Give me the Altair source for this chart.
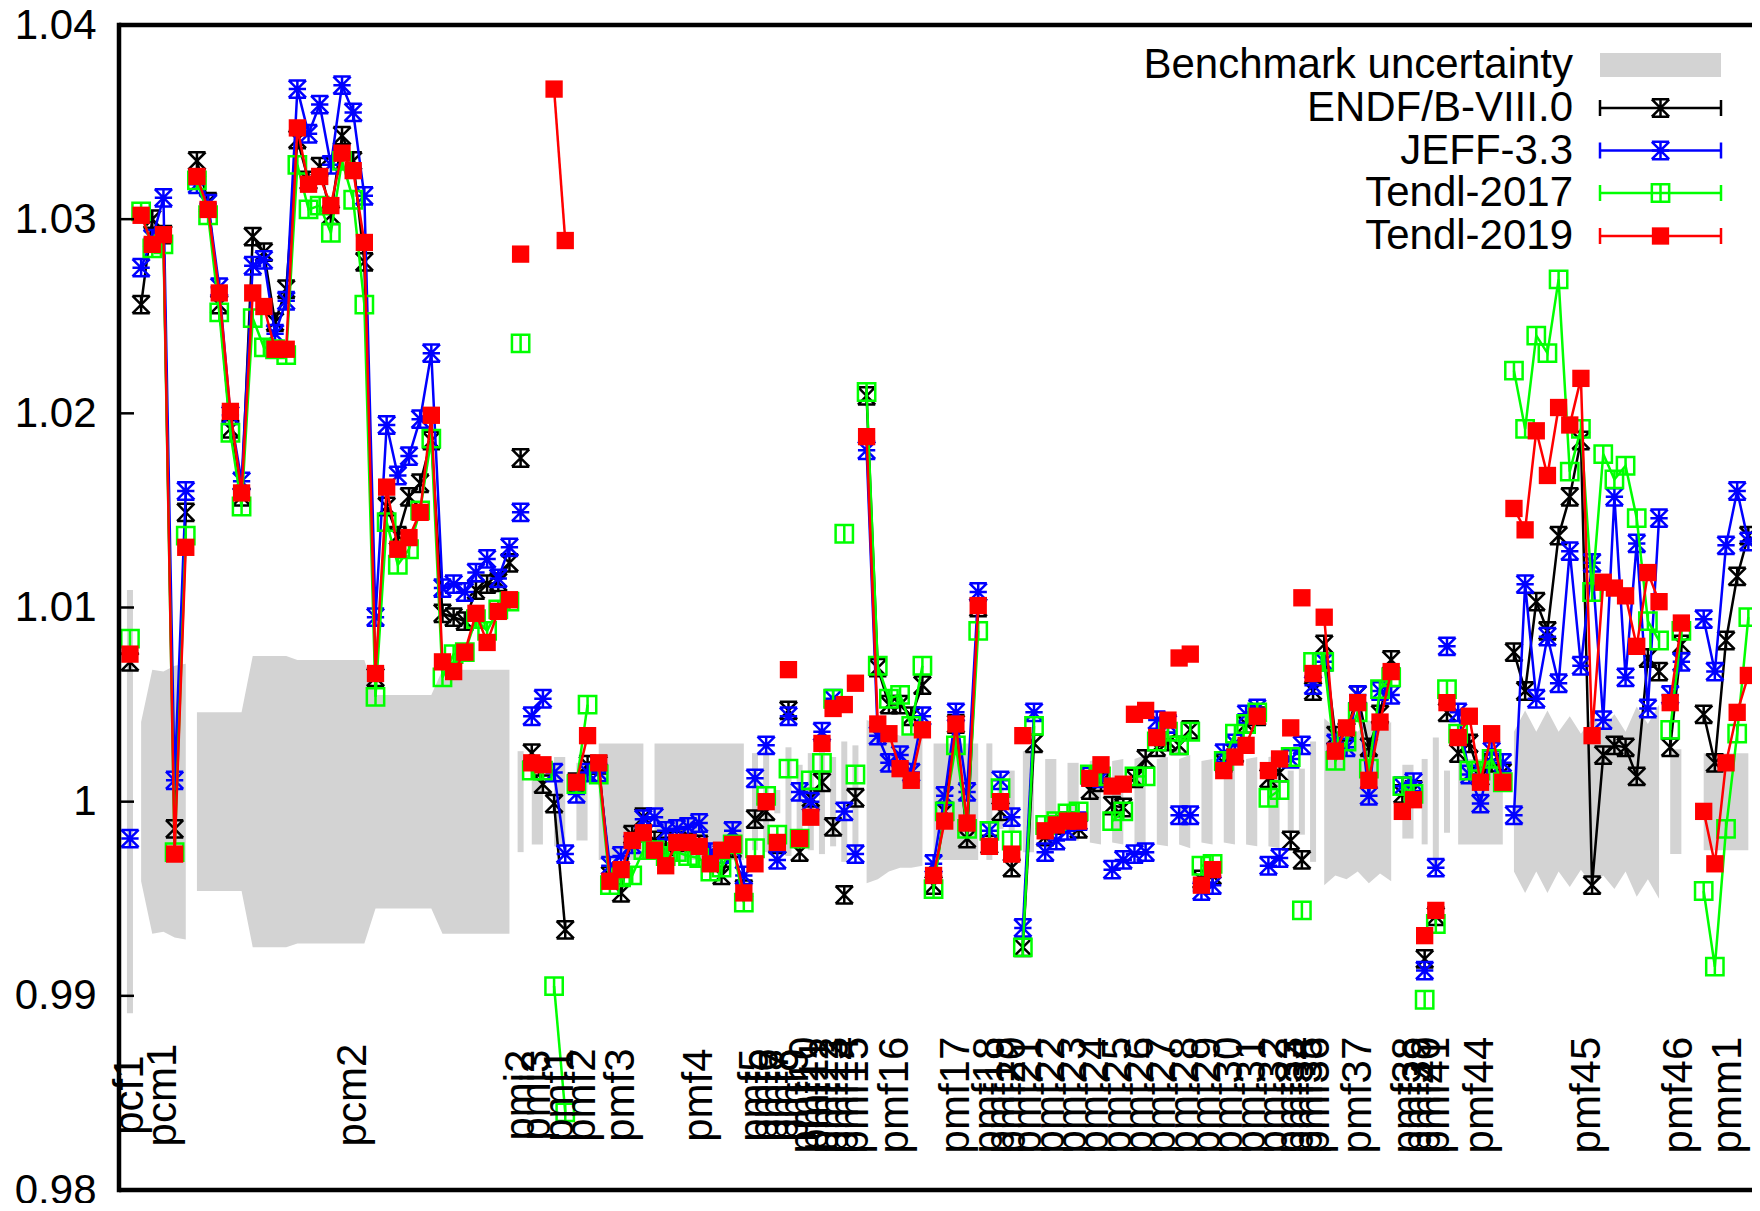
import altair as alt
import pandas as pd
import numpy as np

N = None
# benchmark index 0..145 ; C/E values
endf = [1.0072, 1.0256, 1.0300, 1.0292, 0.9986, 1.0149, 1.0330, 1.0309, 1.0256, 1.0192,
        1.0157, 1.0291, 1.0283, 1.0247, 1.0264, 1.0341, 1.0320, 1.0327, 1.0302, 1.0343,
        1.0330, 1.0278, 1.0064, 1.0152, 1.0137, 1.0157, 1.0164, 1.0186, 1.0097, 1.0095,
        1.0093, 1.0109, 1.0112, 1.0113, 1.0123, 1.0177, 1.0025, 1.0009, 0.9999, 0.9934,
        1.0010, 1.0019, 1.0019, 0.9962, 0.9953, 0.9983, 0.9992, 0.9980, 0.9977, 0.9980,
        0.9979, 0.9978, 0.9970, 0.9962, 0.9976, 0.9955, 0.9991, 0.9995, 0.9978, 1.0047,
        0.9974, 1.0002, 1.0010, 0.9987, 0.9952, 1.0002, 1.0209, 1.0069, 1.0050, 1.0050,
        1.0044, 1.0060, 0.9957, 0.9995, 1.0040, 0.9981, 1.0100, 0.9978, 0.9995, 0.9966,
        0.9925, 1.0030, 0.9982, 0.9988, 0.9990, 0.9986, 1.0006, 1.0010, 0.9998, 0.9997,
        1.0012, 1.0022, 1.0028, 1.0031, 1.0029, 1.0037, 0.9960, 0.9962, 1.0020, 1.0025,
        1.0040, 1.0044, 1.0012, 1.0015, 0.9980, 0.9970, 1.0057, 1.0081, 1.0034, 1.0036,
        1.0055, 1.0028, 1.0045, 1.0073, 1.0004, 1.0006, 0.9919, 0.9941, 1.0046, 1.0025,
        1.0030, 1.0013, 1.0020, 1.0015, 1.0077, 1.0057, 1.0103, 1.0088, 1.0137, 1.0157,
        1.0186, 0.9957, 1.0024, 1.0029, 1.0028, 1.0013, 1.0074, 1.0067, 1.0028, 1.0081,
        N, 1.0045, 1.0020, 1.0083, 1.0116, 1.0137]
jeff = [0.9981, 1.0275, 1.0290, 1.0311, 1.0011, 1.0160, 1.0318, 1.0308, 1.0265, 1.0199,
        1.0165, 1.0276, 1.0279, 1.0241, 1.0258, 1.0367, 1.0344, 1.0359, 1.0328, 1.0369,
        1.0355, 1.0312, 1.0095, 1.0194, 1.0168, 1.0178, 1.0197, 1.0231, 1.0110, 1.0112,
        1.0108, 1.0118, 1.0125, 1.0115, 1.0131, 1.0149, 1.0044, 1.0053, 1.0015, 0.9973,
        1.0004, 1.0015, 1.0015, 0.9967, 0.9972, 0.9978, 0.9991, 0.9992, 0.9985, 0.9986,
        0.9987, 0.9989, 0.9974, 0.9973, 0.9985, 0.9962, 1.0012, 1.0029, 0.9970, 1.0044,
        1.0005, 1.0000, 1.0036, 1.0053, 0.9995, 0.9973, 1.0181, 1.0034, 1.0020, 1.0024,
        1.0015, 1.0044, 0.9968, 1.0003, 1.0046, 1.0005, 1.0108, 0.9985, 1.0011, 0.9992,
        0.9935, 1.0046, 0.9974, 0.9980, 0.9985, 0.9990, 1.0013, 1.0012, 0.9965, 0.9970,
        0.9973, 0.9974, 1.0042, 1.0040, 0.9993, 0.9993, 0.9954, 0.9957, 1.0025, 1.0030,
        1.0045, 1.0048, 0.9967, 0.9971, 1.0022, 1.0029, 1.0060, 1.0072, 1.0030, 1.0028,
        1.0055, 1.0003, 1.0057, 1.0055, 1.0008, 1.0010, 0.9913, 0.9966, 1.0080, 1.0046,
        1.0014, 0.9999, 1.0026, 1.0020, 0.9993, 1.0112, 1.0053, 1.0085, 1.0061, 1.0129,
        1.0070, 1.0123, 1.0042, 1.0157, 1.0064, 1.0133, 1.0048, 1.0146, 1.0055, 1.0072,
        N, 1.0094, 1.0067, 1.0132, 1.0160, 1.0134]
tendl17 = [1.0084, 1.0304, 1.0285, 1.0287, 0.9974, 1.0137, 1.0320, 1.0302, 1.0252, 1.0190,
           1.0152, 1.0249, 1.0234, 1.0233, 1.0230, 1.0328, 1.0305, 1.0307, 1.0293, 1.0330,
           1.0310, 1.0256, 1.0054, 1.0144, 1.0122, 1.0130, 1.0150, 1.0187, 1.0064, 1.0076,
           1.0077, 1.0094, 1.0088, 1.0099, 1.0103, 1.0236, 1.0016, 1.0016, 0.9905, 0.9840,
           1.0009, 1.0050, 1.0014, 0.9957, 0.9961, 0.9962, 0.9975, 0.9975, 0.9972, 0.9974,
           0.9972, 0.9971, 0.9964, 0.9966, 0.9978, 0.9948, 0.9976, 1.0003, 0.9983, 1.0017,
           0.9981, 1.0011, 1.0020, 1.0053, 1.0138, 1.0014, 1.0211, 1.0070, 1.0053, 1.0055,
           1.0039, 1.0070, 0.9955, 0.9995, 1.0029, 0.9986, 1.0088, 0.9985, 1.0007, 0.9980,
           0.9925, 1.0039, 0.9988, 0.9990, 0.9994, 0.9995, 1.0014, 1.0013, 0.9990, 0.9995,
           1.0013, 1.0013, 1.0031, 1.0036, 1.0029, 1.0036, 0.9967, 0.9968, 1.0021, 1.0035,
           1.0040, 1.0046, 1.0002, 1.0006, 1.0023, 0.9944, 1.0072, 1.0072, 1.0021, 1.0031,
           1.0046, 1.0017, 1.0058, 1.0064, 1.0008, 1.0004, 0.9898, 0.9937, 1.0058, 1.0035,
           1.0016, 1.0016, 1.0022, 1.0010, 1.0222, 1.0192, 1.0240, 1.0231, 1.0269, 1.0170,
           1.0192, 1.0108, 1.0179, 1.0166, 1.0173, 1.0146, 1.0093, 1.0083, 1.0037, 1.0088,
           N, 0.9954, 0.9915, 0.9986, 1.0035, 1.0095]
tendl19 = [1.0076, 1.0302, 1.0287, 1.0292, 0.9973, 1.0131, 1.0322, 1.0305, 1.0262, 1.0201,
           1.0159, 1.0262, 1.0255, 1.0233, 1.0233, 1.0347, 1.0318, 1.0322, 1.0307, 1.0334,
           1.0325, 1.0288, 1.0066, 1.0162, 1.0130, 1.0136, 1.0149, 1.0199, 1.0072, 1.0067,
           1.0077, 1.0097, 1.0082, 1.0098, 1.0104, 1.0282, 1.0020, 1.0019, 1.0367, 1.0289,
           1.0010, 1.0034, 1.0020, 0.9959, 0.9965, 0.9980, 0.9984, 0.9975, 0.9967, 0.9979,
           0.9979, 0.9977, 0.9968, 0.9975, 0.9978, 0.9953, 0.9968, 1.0000, 0.9979, 1.0068,
           0.9981, 0.9992, 1.0030, 1.0048, 1.0050, 1.0061, 1.0188, 1.0040, 1.0035, 1.0017,
           1.0011, 1.0037, 0.9962, 0.9990, 1.0040, 0.9989, 1.0101, 0.9977, 1.0000, 0.9973,
           1.0034, N, 0.9985, 0.9988, 0.9990, 0.9990, 1.0012, 1.0019, 1.0008, 1.0009,
           1.0045, 1.0047, 1.0033, 1.0042, 1.0074, 1.0076, 0.9957, 0.9965, 1.0016, 1.0023,
           1.0029, 1.0044, 1.0016, 1.0022, 1.0038, 1.0105, 1.0066, 1.0095, 1.0026, 1.0038,
           1.0051, 1.0011, 1.0041, 1.0067, 0.9995, 1.0001, 0.9931, 0.9944, 1.0051, 1.0033,
           1.0044, 1.0010, 1.0035, 1.0010, 1.0151, 1.0140, 1.0191, 1.0168, 1.0203, 1.0194,
           1.0218, 1.0034, 1.0113, 1.0110, 1.0106, 1.0080, 1.0118, 1.0103, 1.0051, 1.0092,
           N, 0.9995, 0.9968, 1.0020, 1.0046, 1.0065]
unc = [0.0109, 0.0041, 0.0068, 0.0067, 0.0070, 0.0071, 0.0046, 0.0046, 0.0046, 0.0046,
       0.0046, 0.0075, 0.0075, 0.0075, 0.0075, 0.0073, 0.0073, 0.0073, 0.0073, 0.0073,
       0.0073, 0.0073, 0.0055, 0.0055, 0.0055, 0.0055, 0.0055, 0.0055, 0.0068, 0.0068,
       0.0068, 0.0068, 0.0068, 0.0068, 0.0068, 0.0026, 0.0022, 0.0022, 0.0023, 0.0023,
       0.0020, 0.0020, 0.0030, 0.0030, 0.0030, 0.0030, 0.0030, 0.0030, 0.0030, 0.0030,
       0.0030, 0.0030, 0.0030, 0.0030, 0.0030, 0.0030, 0.0025, 0.0026, 0.0006, 0.0028,
       0.0019, 0.0025, 0.0027, 0.0023, 0.0031, 0.0029, 0.0042, 0.0040, 0.0036, 0.0034,
       0.0034, 0.0033, 0.0030, 0.0030, 0.0030, 0.0030, 0.0030, 0.0030, 0.0014, 0.0016,
       0.0026, 0.0026, 0.0022, 0.0022, 0.0020, 0.0020, 0.0021, 0.0022, 0.0021, 0.0022,
       0.0022, 0.0024, 0.0022, 0.0023, 0.0022, 0.0024, 0.0021, 0.0022, 0.0021, 0.0022,
       0.0022, 0.0023, 0.0023, 0.0024, 0.0016, 0.0017, 0.0031, 0.0043, 0.0038, 0.0040,
       0.0036, 0.0042, 0.0037, 0.0041, 0.0019, 0.0019, 0.0022, 0.0033, 0.0016, 0.0022,
       0.0022, 0.0022, 0.0022, 0.0022, 0.0036, 0.0047, 0.0036, 0.0047, 0.0036, 0.0044,
       0.0035, 0.0043, 0.0038, 0.0045, 0.0036, 0.0049, 0.0040, 0.0050, 0.0027, 0.0027,
       N, 0.0025, 0.0025, 0.0025, 0.0025, 0.0025]
# first index of each benchmark series (lines / bands are broken between series)
group_starts = [0, 1, 6, 35, 36, 38, 40, 42, 47, 56, 57, 58, 59, 60, 61, 62, 63, 64, 65,
                66, 72, 77, 78, 79, 80, 82, 84, 86, 88, 90, 92, 94, 96, 98, 100, 102,
                104, 105, 106, 107, 114, 116, 117, 118, 119, 124, 138, 140, 141]
tick_names = ["pcf1", "pcm1", "pcm2", "pmi2", "pmi3", "pmf1", "pmf2", "pmf3", "pmf4",
              "pmf5", "pmf6", "pmf7", "pmf8", "pmf9", "pmf10", "pmf11", "pmf12", "pmf13",
              "pmf14", "pmf15", "pmf16", "pmf17", "pmf18", "pmf19", "pmf20", "pmf21",
              "pmf22", "pmf23", "pmf24", "pmf25", "pmf26", "pmf27", "pmf28", "pmf29",
              "pmf30", "pmf31", "pmf32", "pmf33", "pmf34", "pmf35", "pmf36", "pmf37",
              "pmf38", "pmf39", "pmf40", "pmf41", "pmf44", "pmf45", "pmf46", "pmm1"]
tick_pos = [0, 3, 20, 35, 36.5, 38.5, 40.5, 44, 51,
            56, 56.9, 57.8, 58.7, 59.6, 60.5, 61.4, 62.3, 63.2, 64.1, 65,
            68.5, 74, 77, 78, 79, 80.5, 82.5, 84.5, 86.5, 88.5, 90.5, 92.5, 94.5, 96.5,
            98.5, 100.5, 102.5, 104, 104.8, 105.6, 106.3, 110,
            114.5, 115.4, 116.2, 117, 121, 130.5, 138.8, 143.2]
series_names = ["ENDF/B-VIII.0", "JEFF-3.3", "Tendl-2017", "Tendl-2019"]
series_values = [endf, jeff, tendl17, tendl19]
series_colors = ["#000000", "#0000ff", "#00ff00", "#ff0000"]
band_name = "Benchmark uncertainty"
ytick_values = [0.98, 0.99, 1.00, 1.01, 1.02, 1.03, 1.04]
label_level = 0.98489

# ---------------------------------------------------------------- styling
W, H = 1633, 1165
FONT = "Liberation Sans"
FS = 42
GRAY = "#d3d3d3"
MSIZE = 300
LW = 2.5
shapes = [
    "M-1,-1L1,1M-1,1L1,-1M-1,-1L1,-1M-1,1L1,1M0,-1L0,1",
    "M-1,-1L1,1M-1,1L1,-1M0,-1L0,1M-1,0L1,0M-1,-1L1,-1M-1,1L1,1",
    "M-1,-1L1,-1L1,1L-1,1ZM0,-1L0,1",
    "square",
]

xscale = alt.Scale(domain=[-0.534, 144.88], nice=False, zero=False)
yscale = alt.Scale(domain=[0.98, 1.04], nice=False, zero=False)
yaxis = alt.Axis(values=ytick_values, title=None, grid=False, domain=False, ticks=False,
                 tickSize=0, labelPadding=23, labelFontSize=FS, labelFont=FONT,
                 labelColor="black",
                 labelExpr="format(datum.value, '.2f') == '1.00' ? '1' : format(datum.value, '.2f')")


def X(f="i"):
    return alt.X(f + ":Q", scale=xscale, axis=None)


def Y(f):
    return alt.Y(f + ":Q", scale=yscale, axis=yaxis)


idx = np.arange(len(unc))
gid = np.searchsorted(np.array(group_starts), idx, side="right") - 1
gsize = pd.Series(gid).map(pd.Series(gid).value_counts()).values
u = np.array(unc, dtype=float)

band = pd.DataFrame({"i": idx, "g": gid, "n": gsize, "lo": 1 - u, "hi": 1 + u}).dropna()
band_multi = band[band.n > 1]
band_single = band[band.n == 1]

layers = []
layers.append(alt.Chart(band_multi).mark_area(color=GRAY, opacity=1).encode(
    x=X(), y=Y("lo"), y2="hi:Q", detail="g:N"))
layers.append(alt.Chart(band_single).mark_bar(color=GRAY, width=6).encode(
    x=X(), y=Y("lo"), y2="hi:Q"))

for name, vals, col, shp in zip(series_names, series_values, series_colors, shapes):
    df = pd.DataFrame({"i": idx, "g": gid, "n": gsize,
                       "v": np.array(vals, dtype=float)}).dropna()
    layers.append(alt.Chart(df[df.n > 1]).mark_line(color=col, strokeWidth=LW).encode(
        x=X(), y=Y("v"), detail="g:N"))
    if shp == "square":
        pm = alt.Chart(df).mark_point(shape="square", filled=True, fill=col, color=col,
                                      size=MSIZE, opacity=1, strokeWidth=0)
    else:
        pm = alt.Chart(df).mark_point(shape=shp, filled=False, color=col, size=MSIZE,
                                      opacity=1, strokeWidth=LW)
    layers.append(pm.encode(x=X(), y=Y("v")))

# benchmark-series labels inside the plot
labels = pd.DataFrame({"i": tick_pos, "t": tick_names, "y": label_level})
layers.append(alt.Chart(labels).mark_text(angle=270, align="center", baseline="middle",
                                          font=FONT, fontSize=FS, color="black").encode(
    x=X(), y=Y("y"), text="t:N"))

# inward ticks on the left border
ticks = pd.DataFrame({"v": ytick_values})
layers.append(alt.Chart(ticks).mark_rule(color="black", strokeWidth=2.5).encode(
    y=Y("v"), x=alt.value(0), x2=alt.value(15)))

# frame (right side lies beyond the picture)
one = pd.DataFrame({"a": [0]})
BW = 4.5
layers.append(alt.Chart(one).mark_rule(color="black", strokeWidth=BW).encode(
    x=alt.value(0), y=alt.value(-BW / 2), y2=alt.value(H + BW / 2)))
layers.append(alt.Chart(one).mark_rule(color="black", strokeWidth=BW).encode(
    x=alt.value(0), x2=alt.value(W + 10), y=alt.value(0)))
layers.append(alt.Chart(one).mark_rule(color="black", strokeWidth=BW).encode(
    x=alt.value(0), x2=alt.value(W + 10), y=alt.value(H)))

# key (gnuplot style: text, then sample)
TX, S1, S2, SC = 1454, 1481, 1602, 1541.5
row_y = [40, 83, 125.5, 168, 211]
layers.append(alt.Chart(one).mark_text(align="right", baseline="middle", font=FONT,
                                       fontSize=FS, color="black").encode(
    x=alt.value(TX), y=alt.value(row_y[0]), text=alt.value(band_name)))
layers.append(alt.Chart(one).mark_rect(color=GRAY).encode(
    x=alt.value(S1), x2=alt.value(S2), y=alt.value(row_y[0] - 12), y2=alt.value(row_y[0] + 12)))
for k, (name, col, shp) in enumerate(zip(series_names, series_colors, shapes)):
    yy = row_y[k + 1]
    layers.append(alt.Chart(one).mark_text(align="right", baseline="middle", font=FONT,
                                           fontSize=FS, color="black").encode(
        x=alt.value(TX), y=alt.value(yy), text=alt.value(name)))
    layers.append(alt.Chart(one).mark_rule(color=col, strokeWidth=LW).encode(
        x=alt.value(S1), x2=alt.value(S2), y=alt.value(yy)))
    for xe in (S1, S2):
        layers.append(alt.Chart(one).mark_rule(color=col, strokeWidth=LW).encode(
            x=alt.value(xe), y=alt.value(yy - 8), y2=alt.value(yy + 8)))
    if shp == "square":
        mk = alt.Chart(one).mark_point(shape="square", filled=True, fill=col, color=col,
                                       size=MSIZE, opacity=1, strokeWidth=0)
    else:
        mk = alt.Chart(one).mark_point(shape=shp, filled=False, color=col, size=MSIZE,
                                       opacity=1, strokeWidth=LW)
    layers.append(mk.encode(x=alt.value(SC), y=alt.value(yy)))

chart = alt.layer(*layers).properties(
    width=W, height=H, autosize="none",
    padding={"left": 111, "top": 17, "right": 0, "bottom": 13},
).configure_view(strokeWidth=0).configure(font=FONT, background="white")

chart.save("out.html", embed_options={"renderer": "svg", "actions": False})
